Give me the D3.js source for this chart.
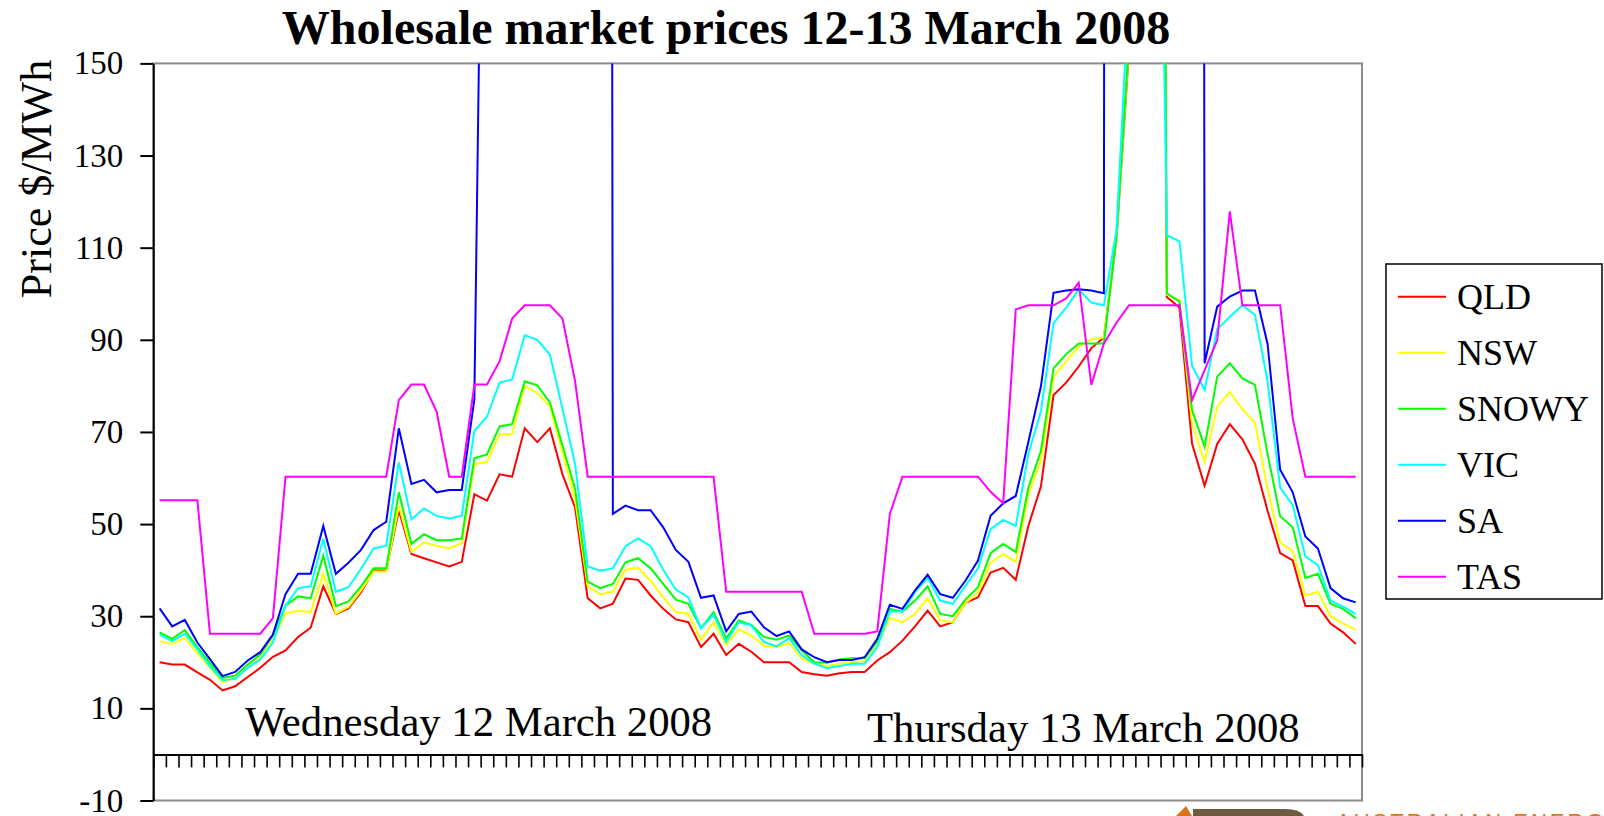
<!DOCTYPE html>
<html>
<head>
<meta charset="utf-8">
<title>Wholesale market prices 12-13 March 2008</title>
<script src="https://cdn.jsdelivr.net/npm/d3@7"></script>
<style>
  body { margin: 0; background: #fff; }
  text { font-family: "Liberation Serif", "Times New Roman", serif; fill: #000; }
</style>
</head>
<body>
<div id="chart"></div>
<script>
// half-hour trading intervals, 12 and 13 March 2008
const periods = d3.range(96);

const regions = ["QLD", "NSW", "SNOWY", "VIC", "SA", "TAS"];
const colors = ["#ff0000", "#ffff00", "#00ff00", "#00ffff", "#0000ff", "#ff00ff"];

const qld = [20.0, 19.5, 19.5, 17.8, 16.2, 13.9, 14.8, 16.8, 18.8, 21.2,
  22.6, 25.5, 27.5, 36.5, 30.5, 31.7, 35.2, 39.9, 39.9, 53.0,
  43.5, 42.6, 41.7, 40.8, 41.8, 56.5, 55.1, 60.8, 60.3, 70.8,
  67.8, 70.8, 60.8, 53.6, 33.9, 31.7, 32.7, 38.2, 37.9, 34.5,
  31.6, 29.3, 28.7, 23.3, 26.2, 21.6, 24.0, 22.3, 20.0, 20.0,
  20.0, 17.9, 17.4, 17.1, 17.6, 17.9, 17.9, 20.4, 22.2, 24.7,
  27.8, 31.2, 27.8, 28.7, 32.9, 34.1, 39.5, 40.5, 37.9, 49.6,
  58.2, 78.0, 80.7, 84.2, 88.2, 90.5, 112, 153, 300, 600,
  99.3, 97.0, 67.5, 58.3, 67.4, 71.7, 68.4, 63.1, 52.9, 43.7,
  42.1, 32.2, 32.2, 28.4, 26.5, 24.0];

const nsw = [24.6, 24.0, 25.3, 22.0, 18.8, 15.7, 16.6, 18.8, 20.9, 24.9,
  30.6, 31.2, 30.9, 39.2, 30.6, 32.0, 35.6, 39.7, 39.7, 54.0,
  44.0, 46.0, 45.3, 44.7, 45.9, 63.0, 63.5, 69.5, 69.5, 80.0,
  78.4, 75.6, 65.5, 55.5, 36.5, 34.8, 35.3, 40.1, 40.5, 37.7,
  34.1, 30.9, 30.5, 24.9, 28.7, 23.8, 27.1, 25.8, 23.6, 23.3,
  24.2, 20.8, 19.7, 19.2, 19.7, 20.0, 20.2, 23.6, 29.6, 28.7,
  30.5, 33.9, 29.1, 28.7, 32.9, 35.1, 41.6, 43.5, 41.8, 56.5,
  63.7, 82.0, 85.3, 88.5, 90.1, 90.5, 112, 154, 300, 600,
  99.8, 98.6, 71.9, 63.5, 75.5, 78.7, 74.9, 72.0, 57.6, 46.0,
  44.2, 34.5, 35.3, 30.0, 28.4, 27.1];

const snowy = [26.5, 25.1, 27.0, 23.3, 19.9, 16.6, 17.1, 19.5, 21.7, 25.8,
  32.3, 34.3, 33.9, 43.1, 32.2, 33.2, 36.5, 40.4, 40.4, 56.9,
  45.7, 47.8, 46.5, 46.5, 46.9, 64.3, 65.1, 71.2, 71.7, 81.0,
  80.1, 76.4, 67.0, 57.6, 37.5, 36.1, 37.0, 41.7, 42.6, 40.4,
  37.0, 33.6, 32.7, 27.4, 30.9, 25.2, 29.1, 28.1, 25.5, 24.9,
  25.8, 22.6, 20.0, 19.9, 20.6, 20.9, 20.9, 24.5, 31.6, 31.0,
  33.4, 36.5, 30.5, 30.0, 33.6, 36.3, 43.7, 45.7, 43.9, 57.9,
  65.9, 83.8, 86.9, 89.2, 89.2, 89.2, 112.5, 155, 300, 600,
  100.1, 98.3, 74.8, 66.8, 82.0, 84.9, 81.6, 80.2, 65.2, 51.7,
  49.3, 38.3, 39.2, 32.7, 31.6, 29.6];

const vic = [26.0, 24.6, 26.2, 22.8, 19.1, 16.1, 16.4, 18.8, 20.6, 24.3,
  32.3, 36.1, 36.5, 46.8, 35.3, 36.3, 40.3, 44.7, 45.3, 63.4,
  51.0, 53.4, 51.8, 51.2, 51.8, 70.2, 73.3, 80.7, 81.4, 91.0,
  90.0, 86.8, 75.0, 63.0, 40.8, 39.9, 40.4, 45.2, 46.9, 45.2,
  40.1, 35.8, 34.1, 27.4, 30.3, 24.4, 28.7, 28.0, 24.4, 23.5,
  25.2, 21.5, 19.7, 18.7, 19.2, 19.7, 19.7, 23.3, 31.0, 31.0,
  35.2, 38.4, 33.4, 32.7, 36.6, 40.4, 48.9, 50.9, 49.6, 65.2,
  74.5, 93.6, 97.0, 100.9, 98.1, 97.5, 113.8, 167, 250, 290,
  112.7, 111.4, 84.4, 79.1, 92.3, 95.0, 97.5, 95.4, 81.0, 57.9,
  54.1, 43.0, 41.1, 33.4, 32.1, 30.5];

const sa = [31.7, 27.8, 29.2, 24.3, 20.7, 17.0, 17.9, 20.4, 22.2, 26.0,
  34.8, 39.2, 39.2, 49.6, 39.2, 41.6, 44.4, 48.7, 50.5, 70.8,
  58.7, 59.6, 56.9, 57.4, 57.4, 77.1, 280, 1200, 2500, 4000,
  6000, 5000, 4000, 3000, 2500, 2000, 52.2, 54.0, 53.0, 53.0,
  49.3, 44.4, 41.8, 34.0, 34.5, 26.7, 30.5, 31.0, 27.6, 25.7,
  26.7, 22.8, 21.1, 20.0, 20.5, 20.5, 21.1, 25.1, 32.5, 31.6,
  35.6, 39.0, 34.8, 34.0, 37.7, 42.1, 51.8, 54.5, 56.1, 67.8,
  79.9, 100.2, 100.7, 101.0, 100.7, 100.1, 3000, 5000, 6000, 6500,
  5000, 3500, 2000, 84.9, 97.2, 99.4, 100.7, 100.7, 89.1, 61.8,
  56.9, 47.3, 44.7, 36.1, 33.9, 33.0];

const tas = [55.2, 55.2, 55.2, 55.2, 26.2, 26.2, 26.2, 26.2, 26.2, 29.6,
  60.3, 60.3, 60.3, 60.3, 60.3, 60.3, 60.3, 60.3, 60.3, 76.9,
  80.3, 80.3, 74.4, 60.3, 60.3, 80.3, 80.3, 85.3, 94.6, 97.5,
  97.5, 97.5, 94.6, 81.0, 60.3, 60.3, 60.3, 60.3, 60.3, 60.3,
  60.3, 60.3, 60.3, 60.3, 60.3, 35.3, 35.3, 35.3, 35.3, 35.3,
  35.3, 35.3, 26.2, 26.2, 26.2, 26.2, 26.2, 26.7, 52.2, 60.3,
  60.3, 60.3, 60.3, 60.3, 60.3, 60.3, 57.0, 54.5, 96.6, 97.5,
  97.5, 97.5, 99.0, 102.4, 80.2, 89.2, 93.7, 97.5, 97.5, 97.5,
  97.5, 97.5, 76.9, 83.4, 89.9, 117.9, 97.5, 97.5, 97.5, 97.5,
  72.9, 60.3, 60.3, 60.3, 60.3, 60.3];

const series = [qld, nsw, snowy, vic, sa, tas];
const yTicks = [-10, 10, 30, 50, 70, 90, 110, 130, 150];
const dayLabels = ["Wednesday 12 March 2008", "Thursday 13 March 2008"];

const width = 1604, height = 816;
const plot = { left: 153.3, right: 1362, top: 63.4, bottom: 800.5 };

const svg = d3.select("#chart").append("svg")
  .attr("width", width)
  .attr("height", height)
  .style("display", "block");

const x = d3.scaleBand().domain(periods).range([plot.left, plot.right]);
const xEdge = d3.scaleLinear().domain([0, periods.length]).range([plot.left, plot.right]);
const y = d3.scaleLinear().domain([-10, 150]).range([plot.bottom, plot.top]);

// title
svg.append("text")
  .attr("x", 726).attr("y", 44)
  .attr("text-anchor", "middle")
  .style("font-size", "48px").style("font-weight", "bold")
  .text("Wholesale market prices 12-13 March 2008");

// y axis title
svg.append("text")
  .attr("transform", "translate(51,179) rotate(-90)")
  .attr("text-anchor", "middle")
  .style("font-size", "44px")
  .text("Price $/MWh");

// grey frame on top, right and bottom
svg.append("rect")
  .attr("x", plot.left).attr("y", plot.top)
  .attr("width", plot.right - plot.left).attr("height", plot.bottom - plot.top)
  .attr("fill", "none").attr("stroke", "#8c8c8c").attr("stroke-width", 2);

// y axis
const yAxis = svg.append("g")
  .attr("transform", `translate(${plot.left},0)`)
  .call(d3.axisLeft(y).tickValues(yTicks).tickSize(13).tickPadding(17).tickSizeOuter(0)
    .tickFormat((d) => String(d)));
yAxis.select(".domain").attr("stroke", "#000").attr("stroke-width", 2);
yAxis.selectAll(".tick line").attr("stroke", "#000").attr("stroke-width", 2);
yAxis.selectAll(".tick text")
  .style("font-family", "'Liberation Serif', serif")
  .style("font-size", "33px");

// zero line with a tick at every interval boundary
const xAxis = svg.append("g")
  .attr("transform", `translate(0,${y(0)})`)
  .call(d3.axisBottom(xEdge).tickValues(d3.range(periods.length + 1)).tickSize(13).tickSizeOuter(0).tickFormat(""));
xAxis.select(".domain").attr("stroke", "#000").attr("stroke-width", 2);
xAxis.selectAll(".tick line").attr("stroke", "#000").attr("stroke-width", 1.6);

// day labels
svg.append("text").attr("x", 245).attr("y", 736).style("font-size", "42.7px").text(dayLabels[0]);
svg.append("text").attr("x", 867).attr("y", 742).style("font-size", "42.7px").text(dayLabels[1]);

// price lines, clipped to the plot area
svg.append("clipPath").attr("id", "plot-clip")
  .append("rect")
  .attr("x", plot.left).attr("y", plot.top)
  .attr("width", plot.right - plot.left).attr("height", plot.bottom - plot.top);

const line = d3.line()
  .x((d, i) => x(periods[i]) + x.bandwidth() / 2)
  .y((d) => y(d));

svg.append("g").attr("clip-path", "url(#plot-clip)")
  .selectAll("path")
  .data(series)
  .enter()
  .append("path")
  .attr("d", line)
  .attr("fill", "none")
  .attr("stroke", (_, i) => colors[i])
  .attr("stroke-width", 2)
  .attr("stroke-linejoin", "miter");

// legend
const legend = svg.append("g");
legend.append("rect")
  .attr("x", 1386).attr("y", 264)
  .attr("width", 216).attr("height", 335)
  .attr("fill", "#fff").attr("stroke", "#000").attr("stroke-width", 1.5);

const item = legend.selectAll(".item")
  .data(regions)
  .enter()
  .append("g")
  .attr("transform", (_, i) => `translate(0,${296.7 + i * 56})`);
item.append("line")
  .attr("x1", 1398).attr("x2", 1446)
  .attr("stroke", (_, i) => colors[i]).attr("stroke-width", 2);
item.append("text")
  .attr("x", 1457).attr("dy", "0.35em")
  .style("font-size", "36px")
  .text((d) => d);

// cut-off logo at the bottom edge
const logo = svg.append("g");
logo.append("path")
  .attr("d", "M1176,816 L1186,806 L1192,816 Z")
  .attr("fill", "#d9741c");
logo.append("path")
  .attr("d", "M1193,816 L1193,809 L1285,809 Q1300,809 1304,816 Z")
  .attr("fill", "#6e5b3f");
logo.append("text")
  .attr("x", 1336).attr("y", 829)
  .style("font-family", "'Liberation Sans', Arial, sans-serif")
  .style("font-size", "22px").style("letter-spacing", "3px")
  .style("fill", "#d9741c")
  .text("AUSTRALIAN ENERGY REGULATOR");
</script>
</body>
</html>
